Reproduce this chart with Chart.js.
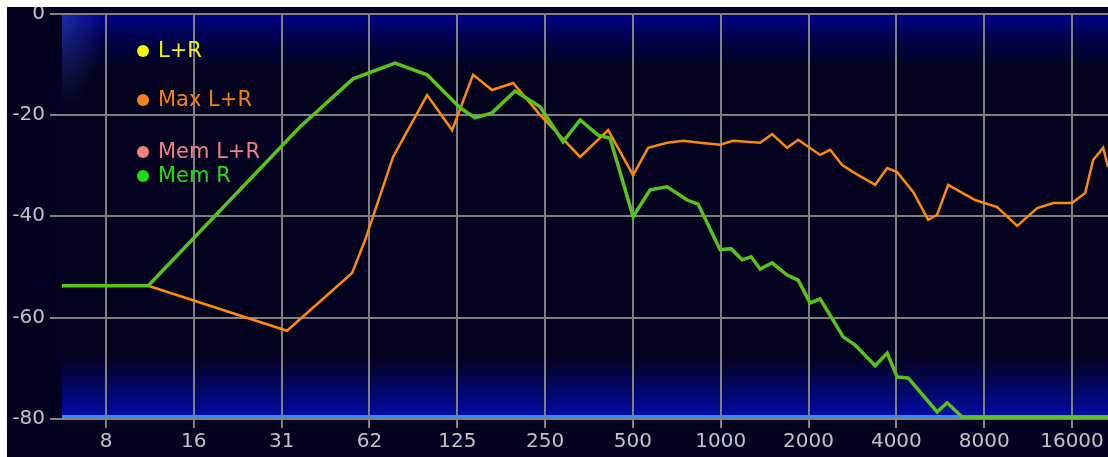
<!DOCTYPE html>
<html>
<head>
<meta charset="utf-8">
<script src="https://cdn.jsdelivr.net/npm/chart.js@4"></script>
<style>
  html, body { margin: 0; padding: 0; background: #fff; }
  #wrap { position: absolute; left: 7px; top: 7px; width: 1101px; height: 450px; overflow: hidden; background: #020220; }
  #spectrum { position: absolute; left: 0; top: -10px; }
</style>
</head>
<body>
<div id="wrap"><canvas id="spectrum" width="1101" height="460"></canvas></div>
<script>
// frequency axis (Hz), octave ticks
const freqMin = 5.52;
const freqMax = 21260;
const tickValues = [7.8125, 15.625, 31.25, 62.5, 125, 250, 500, 1000, 2000, 4000, 8000, 16000];
const tickLabels = ["8", "16", "31", "62", "125", "250", "500", "1000", "2000", "4000", "8000", "16000"];
const levelTicks = [0, -20, -40, -60, -80];

// legend
const seriesNames = ["L+R", "Max L+R", "Mem L+R", "Mem R"];
const seriesColors = ["#f4f400", "#f58214", "#f28282", "#22dc1a"];

// Mem R (green)
const memRFreq = [5.52, 10.9, 36.1, 54.9, 76.5, 98.5, 127.8, 143.9, 164.5, 197.3,
  240.3, 288.1, 329.6, 379.9, 417.6, 500.8, 572.7, 655.2, 767, 836.6,
  995, 1085, 1184, 1271, 1365, 1500, 1689, 1843, 2025, 2191,
  2429, 2628, 2890, 3384, 3720, 4025, 4390, 5520, 5975, 6724, 21260];
const memRLevel = [-53.7, -53.7, -22.4, -12.9, -9.8, -12.1, -18.6, -20.6, -19.6, -15.3,
  -18.4, -25.3, -21.0, -24.0, -24.6, -40.1, -34.8, -34.2, -36.8, -37.6,
  -46.6, -46.4, -48.6, -48.0, -50.4, -49.2, -51.6, -52.6, -57.1, -56.3,
  -60.5, -63.8, -65.4, -69.5, -67.0, -71.7, -71.9, -78.6, -76.8, -79.6, -79.6];

// Max L+R (orange)
const maxFreq = [10.9, 32.6, 54.5, 60.4, 75.3, 98.5, 120, 141.6, 164.5, 194.3,
  240.3, 329.6, 411.3, 500.8, 563.8, 655.2, 743.3, 850, 995, 1102,
  1365, 1500, 1689, 1843, 2191, 2373, 2608, 2844, 3384, 3720,
  4025, 4568, 5142, 5520, 6021, 7449, 8864, 10381, 12160, 13796,
  16022, 17754, 18907, 20470, 21260];
const maxLevel = [-53.7, -62.6, -51.2, -44.7, -28.3, -16.1, -23.0, -12.1, -15.1, -13.7,
  -20.0, -28.3, -23.0, -31.9, -26.5, -25.5, -25.1, -25.5, -25.9, -25.1,
  -25.5, -23.8, -26.5, -24.9, -27.9, -26.9, -29.9, -31.3, -33.8, -30.5,
  -31.3, -35.2, -40.7, -39.7, -33.8, -36.8, -38.2, -41.9, -38.4, -37.4,
  -37.4, -35.4, -28.9, -26.5, -30.3];

const toPoints = (xs, ys) => xs.map((x, i) => ({ x: x, y: ys[i] }));

const backdrop = {
  id: "backdrop",
  beforeDraw(chart) {
    const { ctx, chartArea: a, width, height } = chart;
    const w = a.right - a.left;
    ctx.save();
    ctx.fillStyle = "#020220";
    ctx.fillRect(0, 0, width, height);
    ctx.fillStyle = "#03031f";
    ctx.fillRect(a.left, a.top, w, a.bottom - a.top);

    let g = ctx.createLinearGradient(0, a.top, 0, a.top + 58);
    g.addColorStop(0, "rgba(0,0,145,1)");
    g.addColorStop(0.45, "rgba(0,0,110,0.55)");
    g.addColorStop(1, "rgba(0,0,90,0)");
    ctx.fillStyle = g;
    ctx.fillRect(a.left, a.top, w, 58);

    g = ctx.createLinearGradient(0, a.bottom - 62, 0, a.bottom);
    g.addColorStop(0, "rgba(0,8,160,0)");
    g.addColorStop(1, "rgba(0,12,175,1)");
    ctx.fillStyle = g;
    ctx.fillRect(a.left, a.bottom - 62, w, 62);

    ctx.fillStyle = "#2a8cff";
    ctx.fillRect(a.left, a.bottom - 4, w, 3);

    // soft glow along the top left corner
    ctx.beginPath();
    ctx.rect(a.left, a.top, w, a.bottom - a.top);
    ctx.clip();
    ctx.translate(a.left, a.top);
    ctx.scale(0.45, 1);
    g = ctx.createRadialGradient(0, 0, 0, 0, 0, 95);
    g.addColorStop(0, "rgba(70,110,230,0.4)");
    g.addColorStop(0.6, "rgba(60,90,220,0.18)");
    g.addColorStop(1, "rgba(60,90,220,0)");
    ctx.fillStyle = g;
    ctx.fillRect(0, 0, 220, 100);
    ctx.restore();
  }
};

const legendDots = {
  id: "legendDots",
  afterDraw(chart) {
    const { ctx, chartArea: a } = chart;
    const rows = [37.5, 86.5, 138.5, 162.5];
    ctx.save();
    ctx.font = "21px 'DejaVu Sans'";
    ctx.textBaseline = "middle";
    seriesNames.forEach((name, i) => {
      const y = a.top + rows[i];
      ctx.fillStyle = seriesColors[i];
      ctx.beginPath();
      ctx.arc(a.left + 81, y, 6, 0, Math.PI * 2);
      ctx.fill();
      ctx.fillText(name, a.left + 96, y + 1);
    });
    ctx.restore();
  }
};

const ctx = document.getElementById("spectrum").getContext("2d");
const chart = new Chart(ctx, {
  type: "line",
  data: {
    datasets: [
      {
        label: "Mem R",
        data: toPoints(memRFreq, memRLevel),
        borderColor: "#56c41a",
        borderWidth: 3.5,
        order: 0
      },
      {
        label: "Max L+R",
        data: toPoints(maxFreq, maxLevel),
        borderColor: "#ff8a0a",
        borderWidth: 2.5,
        order: 1
      }
    ]
  },
  options: {
    responsive: false,
    animation: false,
    layout: { padding: { top: 16.5, left: 0, right: 0, bottom: 0 } },
    elements: { point: { radius: 0 }, line: { tension: 0 } },
    plugins: { legend: { display: false }, tooltip: { enabled: false } },
    scales: {
      x: {
        type: "logarithmic",
        min: freqMin,
        max: freqMax,
        afterBuildTicks: (scale) => { scale.ticks = tickValues.map(v => ({ value: v })); },
        afterFit: (scale) => { scale.height = 38; scale.paddingLeft = 0; scale.paddingRight = 0; },
        grid: { color: "#808080", lineWidth: 2, tickLength: 9, drawTicks: true },
        border: { display: false },
        ticks: {
          autoSkip: false,
          maxRotation: 0,
          padding: 2,
          color: "#c2c2c2",
          font: { family: "'DejaVu Sans'", size: 20 },
          callback: (value, index) => tickLabels[index]
        }
      },
      y: {
        min: -80,
        max: 0,
        afterBuildTicks: (scale) => { scale.ticks = levelTicks.map(v => ({ value: v })); },
        afterFit: (scale) => { scale.width = 55; scale.paddingTop = 0; scale.paddingBottom = 0; },
        grid: { color: "#808080", lineWidth: 2, tickLength: 12, drawTicks: true },
        border: { display: false },
        ticks: {
          padding: 5,
          color: "#c2c2c2",
          font: { family: "'DejaVu Sans'", size: 20 },
          callback: (value) => String(value)
        }
      }
    }
  },
  plugins: [backdrop, legendDots]
});
</script>
</body>
</html>
